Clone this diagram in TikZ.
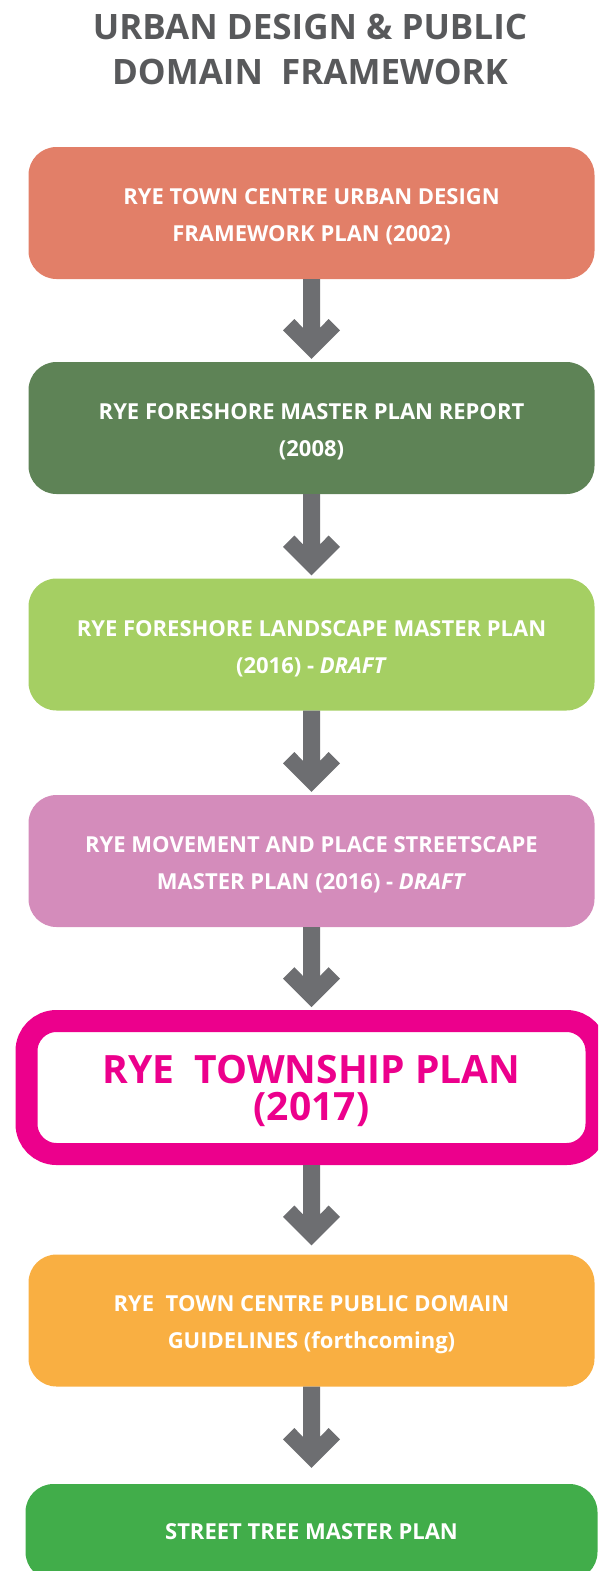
\documentclass[tikz,border=0pt]{standalone}
\usepackage{fontspec}
\setmainfont{Open Sans}
\usetikzlibrary{calc,positioning}

\definecolor{titlegray}{HTML}{58595B}
\definecolor{arrowgray}{HTML}{6D6E71}
\definecolor{salmon}{HTML}{E27F68}
\definecolor{forestgreen}{HTML}{5E8356}
\definecolor{limegreen}{HTML}{A5CF63}
\definecolor{mauve}{HTML}{D48CBB}
\definecolor{hotpink}{HTML}{EC008C}
\definecolor{amber}{HTML}{F9AF42}
\definecolor{leafgreen}{HTML}{41AD4A}

\newcommand{\topstrut}{\rule{0pt}{24pt}}
% thick down arrow with a chevron head, from a box to a tip point
\newcommand{\flowarrow}[2]{%
  \fill[arrowgray] ($(#1.south)+(-8.5,0)$) -- ($(#2)+(-8.5,-31)$)
    -- ($(#2)+(-17.2,-39.8)$) -- ($(#2)+(-28.5,-28.5)$) -- (#2)
    -- ($(#2)+(28.5,-28.5)$) -- ($(#2)+(17.2,-39.8)$)
    -- ($(#2)+(8.5,-31)$) -- ($(#1.south)+(8.5,0)$) -- cycle;}

\begin{document}
\begin{tikzpicture}[x=1pt,y=-1pt,
  titletext/.style={align=center,text=titlegray,inner sep=0pt,
    font=\bfseries\fontsize{35}{45}\selectfont},
  planbox/.style={rounded corners=28pt,minimum width=566pt,minimum height=132pt,
    inner sep=0pt,align=center,text=white,
    font=\bfseries\fontsize{22}{37}\selectfont}]
  \useasboundingbox (0,0) rectangle (598,1571);
  \clip (0,0) rectangle (598,1571);

  \node[titletext] (title) at (310,49) {URBAN DESIGN \& PUBLIC\\DOMAIN\ \ FRAMEWORK};

  \node[planbox,fill=salmon] (urban) at (311.5,213)
    {\topstrut RYE TOWN CENTRE URBAN DESIGN\\FRAMEWORK PLAN (2002)};
  \node[planbox,fill=forestgreen] (report) at (311.5,428)
    {\topstrut RYE FORESHORE MASTER PLAN REPORT\\(2008)};
  \node[planbox,fill=limegreen] (landscape) at (311.5,644.5)
    {\topstrut RYE FORESHORE LANDSCAPE MASTER PLAN\\(2016) - \textit{DRAFT}};
  \node[planbox,fill=mauve] (movement) at (311.5,861)
    {\topstrut RYE MOVEMENT AND PLACE STREETSCAPE\\MASTER PLAN (2016) - \textit{DRAFT}};
  \node[draw=hotpink,line width=22pt,fill=white,rounded corners=30pt,
    minimum width=570pt,minimum height=133pt,inner sep=0pt,align=center,
    text=hotpink,font=\bfseries\fontsize{39}{37}\selectfont] (township) at (311.5,1087.5)
    {\rule{0pt}{36pt}RYE\ \ TOWNSHIP PLAN\\(2017)};
  \node[planbox,fill=amber] (guidelines) at (311.5,1320.5)
    {\topstrut RYE\ \ TOWN CENTRE PUBLIC DOMAIN\\GUIDELINES (forthcoming)};
  \node[planbox,fill=leafgreen,minimum width=572pt,minimum height=96pt] (trees) at (311.5,1532)
    {STREET TREE MASTER PLAN};

  \coordinate (toreport) at ($(report.north)+(0,-3)$);
  \coordinate (tolandscape) at ($(landscape.north)+(0,-3)$);
  \coordinate (tomovement) at ($(movement.north)+(0,-3)$);
  \coordinate (totownship) at ($(township.north)+(0,-3)$);
  \coordinate (toguidelines) at ($(guidelines.north)+(0,-9)$);
  \coordinate (totrees) at ($(trees.north)+(0,-16)$);

  \flowarrow{urban}{toreport}
  \flowarrow{report}{tolandscape}
  \flowarrow{landscape}{tomovement}
  \flowarrow{movement}{totownship}
  \flowarrow{township}{toguidelines}
  \flowarrow{guidelines}{totrees}
\end{tikzpicture}
\end{document}
